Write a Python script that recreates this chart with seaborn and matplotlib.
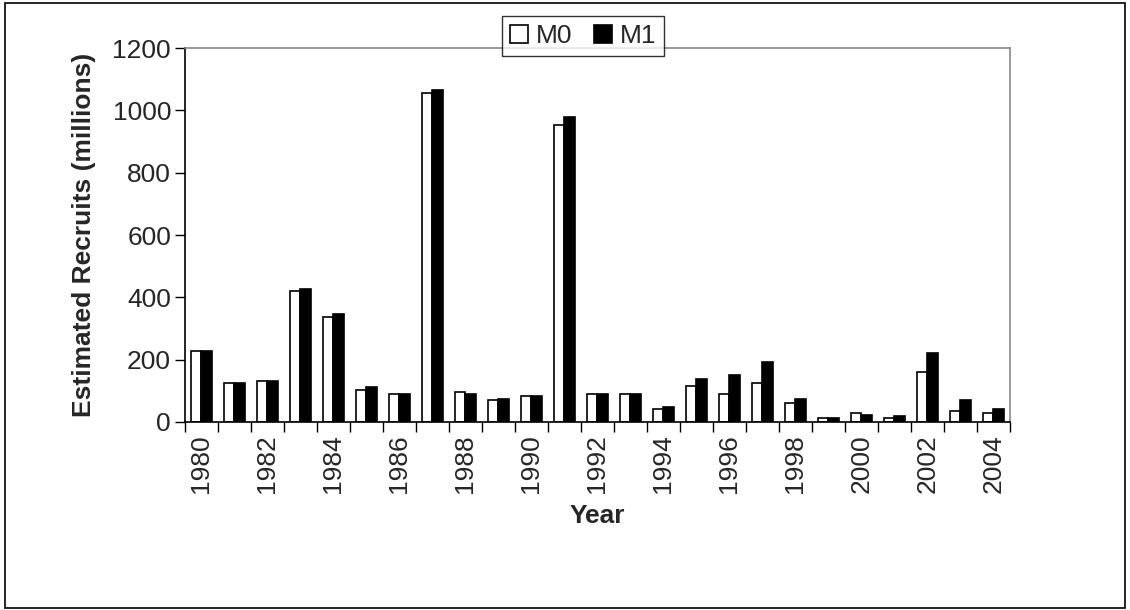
import matplotlib
matplotlib.use("Agg")
import matplotlib.pyplot as plt
import seaborn as sns
import pandas as pd
from matplotlib.patches import Rectangle
from matplotlib.ticker import FixedLocator, NullFormatter

years = list(range(1980, 2005))
m0 = [227, 124, 130, 420, 338, 103, 89, 1055, 96, 69, 83, 953, 89,
      89, 41, 117, 89, 124, 61, 13, 28, 13, 159, 34, 28]
m1 = [227, 124, 130, 427, 345, 111, 89, 1064, 89, 75, 83, 980, 89,
      89, 48, 139, 152, 194, 75, 13, 22, 20, 220, 70, 42]
series = ["M0", "M1"]
colors = {"M0": "white", "M1": "black"}
yticks = [0, 200, 400, 600, 800, 1000, 1200]

df = pd.DataFrame({
    "Year": [str(y) for y in years] * 2,
    "Value": m0 + m1,
    "Model": ["M0"] * len(years) + ["M1"] * len(years),
})

sns.set_style("white")
plt.rcParams["font.family"] = ["Liberation Sans", "DejaVu Sans"]

FS = 19

fig = plt.figure(figsize=(11.3, 6.1), dpi=100)
ax = fig.add_axes([0.1637, 0.3082, 0.7301, 0.6131])

sns.barplot(data=df, x="Year", y="Value", hue="Model", palette=colors,
            edgecolor="black", linewidth=1.2, width=0.62, gap=0,
            ax=ax, legend=True)

ax.set_ylim(0, 1200)
ax.set_yticks(yticks)
ax.set_yticklabels([str(v) for v in yticks], fontsize=FS)
ax.set_xlim(-0.5, len(years) - 0.5)

ax.set_xticks(range(len(years)))
ax.set_xticklabels([str(y) if y % 2 == 0 else "" for y in years],
                   rotation=90, fontsize=FS)
ax.tick_params(axis="x", which="major", length=0, pad=9)
ax.xaxis.set_minor_locator(FixedLocator([i - 0.5 for i in range(len(years) + 1)]))
ax.xaxis.set_minor_formatter(NullFormatter())
ax.tick_params(axis="x", which="minor", length=7, width=1, color="black",
               direction="out", bottom=True)
ax.tick_params(axis="y", length=7, width=1, color="black", direction="out",
               left=True, pad=3)

for s in ["left", "bottom"]:
    ax.spines[s].set_color("black")
    ax.spines[s].set_linewidth(1.2)
for s in ["top", "right"]:
    ax.spines[s].set_color("#888888")
    ax.spines[s].set_linewidth(1.2)

ax.set_xlabel("Year", fontsize=FS, fontweight="bold", labelpad=8)
ax.set_ylabel("Estimated Recruits (millions)", fontsize=FS,
              fontweight="bold", labelpad=12)
ax.grid(False)

ax.legend_.remove()
handles, labels = ax.get_legend_handles_labels()
leg = fig.legend(handles[:2], series, loc="upper center", ncol=2,
                 bbox_to_anchor=(0.516, 0.995), fontsize=FS, frameon=True,
                 fancybox=False, edgecolor="black", handlelength=0.7,
                 handleheight=0.7, handletextpad=0.3, columnspacing=0.8,
                 borderpad=0.3)
leg.get_frame().set_linewidth(1.0)

fig.patches.append(Rectangle((0.004, 0.004), 0.992, 0.991,
                             transform=fig.transFigure, fill=False,
                             edgecolor="black", linewidth=1.2))

fig.savefig("out.png", dpi=100)
